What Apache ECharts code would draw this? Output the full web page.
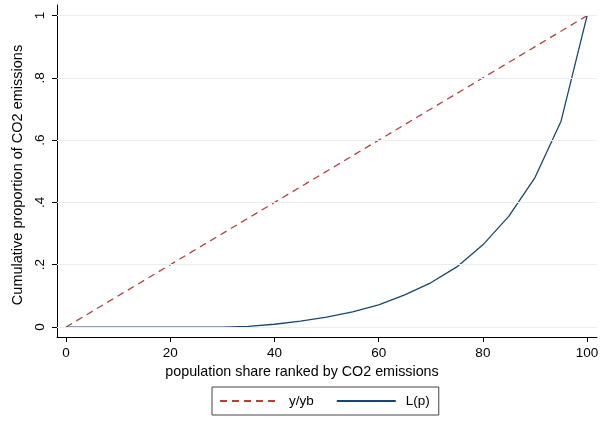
<!DOCTYPE html>
<html>
<head>
<meta charset="utf-8">
<script src="https://cdn.jsdelivr.net/npm/echarts@6/dist/echarts.min.js"></script>
<style>
  html, body { margin: 0; padding: 0; background: #fff; }
  #chart { width: 615px; height: 422px; }
</style>
</head>
<body>
<div id="chart"></div>
<script>
// Population share (percent), ranked by CO2 emissions
const popShare = [0, 5, 10, 15, 20, 25, 30, 35, 40, 45, 50, 55, 60, 65, 70, 75, 80, 85, 90, 95, 100];
// Lorenz curve L(p): cumulative proportion of emissions
const lorenz = [0, 0, 0, 0, 0, 0, 0, 0.002, 0.009, 0.019, 0.032, 0.049, 0.071, 0.103, 0.142, 0.193, 0.264, 0.356, 0.48, 0.661, 1];
// Line of equality y/yb
const equalityX = [0, 100];
const equalityY = [0, 1];

const xTicks = [0, 20, 40, 60, 80, 100];
const yTicks = [0, 0.2, 0.4, 0.6, 0.8, 1];
const yTickLabels = ['0', '.2', '.4', '.6', '.8', '1'];

const font = 'Liberation Sans, Arial, sans-serif';
const chart = echarts.init(document.getElementById('chart'), null, { renderer: 'canvas' });

chart.setOption({
  backgroundColor: '#ffffff',
  animation: false,
  grid: { left: 57, right: 18, top: 5, bottom: 85, containLabel: false },
  xAxis: {
    type: 'value',
    min: -1.73,
    max: 101.9,
    name: 'population share ranked by CO2 emissions',
    nameLocation: 'middle',
    nameGap: 25,
    nameTextStyle: { color: '#000', fontSize: 14.3, fontFamily: font, padding: [0, 50, 0, 0] },
    axisLine: { show: true, onZero: false, lineStyle: { color: '#000', width: 1 } },
    axisTick: { show: true, customValues: xTicks, length: 5, lineStyle: { color: '#000' } },
    axisLabel: { customValues: xTicks, color: '#000', fontSize: 13.5, fontFamily: font, margin: 9 },
    splitLine: { show: false }
  },
  yAxis: {
    type: 'value',
    min: -0.032,
    max: 1.034,
    name: 'Cumulative proportion of CO2 emissions',
    nameLocation: 'middle',
    nameGap: 31,
    nameRotate: 90,
    nameTextStyle: { color: '#000', fontSize: 14.5, fontFamily: font, padding: [0, 8, 0, 0] },
    axisLine: { show: true, onZero: false, lineStyle: { color: '#000', width: 1 } },
    axisTick: { show: true, customValues: yTicks, length: 5, lineStyle: { color: '#000' } },
    axisLabel: {
      customValues: yTicks,
      rotate: 90,
      color: '#000',
      fontSize: 13.5,
      fontFamily: font,
      margin: 10,
      formatter: function (v) {
        const i = yTicks.findIndex(t => Math.abs(t - v) < 1e-9);
        return i >= 0 ? yTickLabels[i] : '';
      }
    },
    splitLine: { show: false }
  },
  legend: {
    left: 212,
    top: 387,
    orient: 'horizontal',
    padding: [7, 9, 7, 7],
    itemWidth: 59,
    itemHeight: 10,
    itemGap: 22,
    borderColor: '#444',
    borderWidth: 1,
    itemStyle: { opacity: 0 },
    textStyle: { color: '#000', fontSize: 13.5, fontFamily: font, padding: [0, 0, 0, 5] },
    data: ['y/yb', 'L(p)']
  },
  series: [
    {
      name: 'gridlines',
      type: 'line',
      data: [],
      silent: true,
      markLine: {
        symbol: 'none',
        silent: true,
        label: { show: false },
        lineStyle: { color: '#e8eff1', width: 1, type: 'solid' },
        data: yTicks.map(v => ({ yAxis: v }))
      }
    },
    {
      name: 'y/yb',
      type: 'line',
      showSymbol: false,
      symbol: 'none',
      data: equalityX.map((x, i) => [x, equalityY[i]]),
      lineStyle: { color: '#b5403a', width: 1.3, type: [7, 5] },
      itemStyle: { color: '#b5403a' },
      z: 3
    },
    {
      name: 'L(p)',
      type: 'line',
      showSymbol: false,
      symbol: 'none',
      data: popShare.map((x, i) => [x, lorenz[i]]),
      lineStyle: { color: '#1a476f', width: 1.3 },
      itemStyle: { color: '#1a476f' },
      z: 4
    }
  ]
});
</script>
</body>
</html>
